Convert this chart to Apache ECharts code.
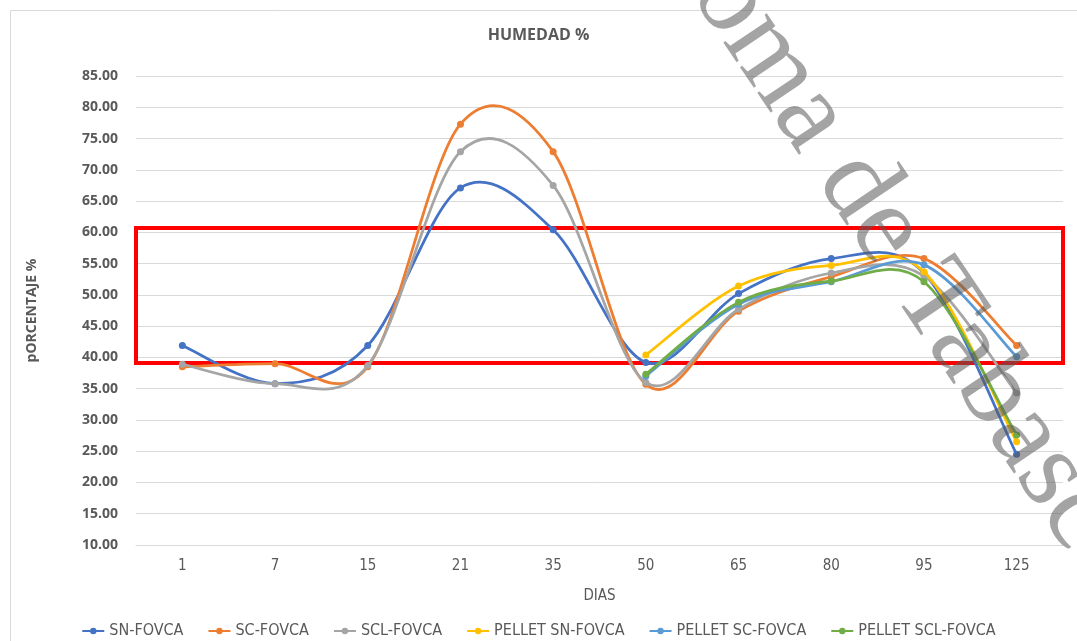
<!DOCTYPE html>
<html>
<head>
<meta charset="utf-8">
<script src="https://cdn.jsdelivr.net/npm/echarts@6/dist/echarts.min.js"></script>
<style>html,body{margin:0;padding:0;background:#fff;}#c{width:1077px;height:641px;}</style>
</head>
<body>
<div id="c"></div>
<script>
const days = ['1','7','15','21','35','50','65','80','95','125'];
const snFovca   = [41.9, 35.8, 41.9, 67.1, 60.4, 39.2, 50.2, 55.8, 53.5, 24.5];
const scFovca   = [38.5, 39.0, 38.5, 77.3, 72.9, 35.7, 47.4, 52.9, 55.8, 41.9];
const sclFovca  = [38.9, 35.8, 38.7, 72.9, 67.5, 36.0, 47.7, 53.5, 53.0, 34.3];
const pelletSn  = [null, null, null, null, null, 40.4, 51.4, 54.7, 53.7, 26.5];
const pelletSc  = [null, null, null, null, null, 37.0, 48.5, 52.1, 54.8, 40.1];
const pelletScl = [null, null, null, null, null, 37.3, 48.8, 52.2, 52.1, 27.6];
const seriesNames = ['SN-FOVCA','SC-FOVCA','SCL-FOVCA','PELLET SN-FOVCA','PELLET SC-FOVCA','PELLET SCL-FOVCA'];
const colors = ['#4472C4','#ED7D31','#A5A5A5','#FFC000','#5B9BD5','#70AD47'];
const bandLow = 39.1, bandHigh = 60.7;

const narrow = '"DejaVu Sans Condensed", "Liberation Sans", sans-serif';
const chart = echarts.init(document.getElementById('c'), null, {renderer:'canvas'});
const allData = [snFovca, scFovca, sclFovca, pelletSn, pelletSc, pelletScl];

function valid(arr, i) { return i >= 0 && i < arr.length && arr[i] != null; }

function makeRender(arr, color) {
  return function (params, api) {
    const i = api.value(0);
    const pt = k => api.coord([k, arr[k]]);
    const p1 = pt(i);
    const children = [];
    if (valid(arr, i + 1)) {
      const p2 = pt(i + 1);
      const p0 = valid(arr, i - 1) ? pt(i - 1) : p1;
      const p3 = valid(arr, i + 2) ? pt(i + 2) : p2;
      children.push({
        type: 'bezierCurve',
        shape: {
          x1: p1[0], y1: p1[1], x2: p2[0], y2: p2[1],
          cpx1: p1[0] + (p2[0] - p0[0]) / 6, cpy1: p1[1] + (p2[1] - p0[1]) / 6,
          cpx2: p2[0] - (p3[0] - p1[0]) / 6, cpy2: p2[1] - (p3[1] - p1[1]) / 6
        },
        style: {stroke: color, lineWidth: 2.75, fill: null, lineCap: 'round'}
      });
    }
    children.push({
      type: 'circle', z2: 5,
      shape: {cx: p1[0], cy: p1[1], r: 3.5},
      style: {fill: color, stroke: null}
    });
    return {type: 'group', children: children};
  };
}

const series = [];
allData.forEach((d, i) => {
  series.push({
    name: seriesNames[i], type: 'line', data: [], symbol: 'circle', symbolSize: 7,
    lineStyle: {width: 2.75, color: colors[i]}, itemStyle: {color: colors[i]}
  });
});
allData.forEach((d, i) => {
  const items = [];
  d.forEach((v, k) => { if (v != null) items.push([k, v]); });
  series.push({
    name: '_' + seriesNames[i], type: 'custom', data: items, z: 2 + i,
    renderItem: makeRender(d, colors[i]),
    encode: {x: 0, y: 1}
  });
});
series[6].markArea = {
  silent: true,
  itemStyle: {color: 'rgba(0,0,0,0)', borderColor: '#FF0000', borderWidth: 4},
  data: [[{yAxis: bandLow}, {yAxis: bandHigh}]]
};

const ang = 56 * Math.PI / 180;
chart.setOption({
  animation: false,
  color: colors,
  title: {
    text: 'HUMEDAD %', left: 'center', top: 22,
    textStyle: {fontFamily: 'Open Sans', fontWeight: 'bold', fontSize: 16, color: '#595959'}
  },
  legend: {
    bottom: -3, left: 'center', itemGap: 24, itemWidth: 22, itemHeight: 8,
    textStyle: {fontFamily: narrow, fontSize: 16, color: '#595959'},
    data: seriesNames
  },
  grid: {left: 136, right: 14, top: 76, bottom: 96, containLabel: false},
  xAxis: {
    type: 'category', data: days, boundaryGap: true,
    name: 'DIAS', nameLocation: 'middle', nameGap: 44,
    nameTextStyle: {fontFamily: narrow, fontSize: 15, color: '#595959'},
    axisLine: {lineStyle: {color: '#D9D9D9', width: 1}},
    axisTick: {show: false},
    axisLabel: {margin: 14, fontFamily: narrow, fontSize: 15, color: '#595959'}
  },
  yAxis: {
    type: 'value', min: 10, max: 85, interval: 5,
    name: 'pORCENTAJE %', nameLocation: 'middle', nameGap: 97,
    nameTextStyle: {fontFamily: 'Open Sans', fontWeight: 'bold', fontSize: 14, color: '#595959'},
    axisLine: {show: false}, axisTick: {show: false},
    splitLine: {lineStyle: {color: '#D9D9D9', width: 1}},
    axisLabel: {margin: 18, fontFamily: 'Open Sans', fontWeight: 'bold', fontSize: 14, color: '#595959',
      formatter: v => v.toFixed(2)}
  },
  graphic: [
    {type: 'rect', silent: true, z: -10, shape: {x: 10.5, y: 10.5, width: 1200, height: 800},
     style: {fill: 'none', stroke: '#D9D9D9', lineWidth: 1}},
    {type: 'text', silent: true, z: 100, x: 840, y: 162, rotation: -ang,
     style: {text: 'Autónoma de Tabasco', fontFamily: 'Liberation Serif', fontSize: 114,
       fill: 'rgba(90,90,90,0.55)', textVerticalAlign: 'middle', textAlign: 'center'}}
  ],
  series: series
});
</script>
</body>
</html>
